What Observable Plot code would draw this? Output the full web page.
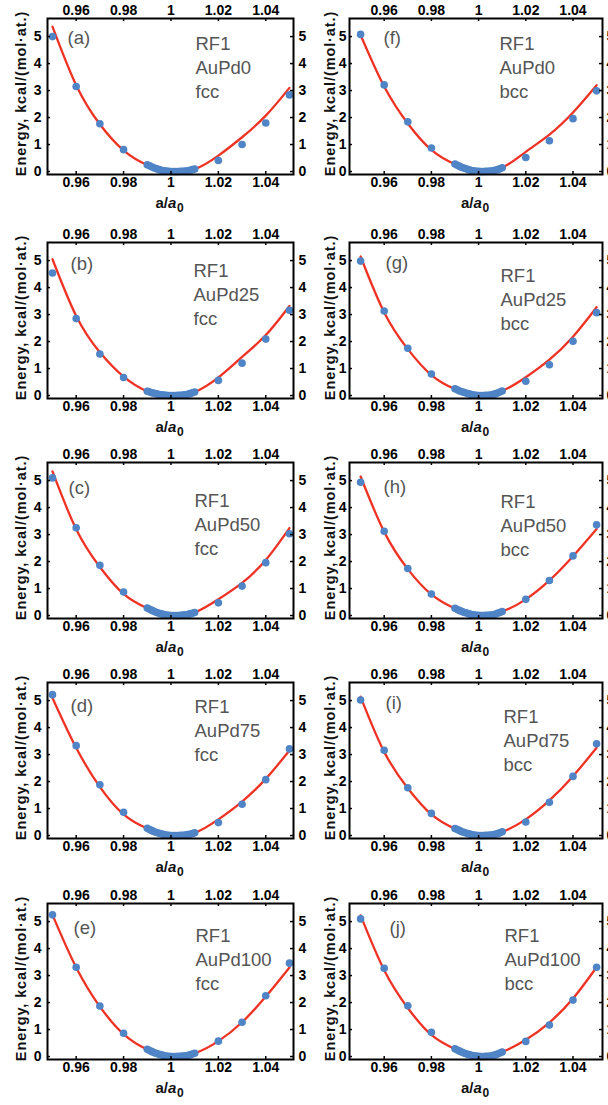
<!DOCTYPE html>
<html><head><meta charset="utf-8">
<script src="https://cdn.jsdelivr.net/npm/d3@7"></script>
<script src="https://cdn.jsdelivr.net/npm/@observablehq/plot@0.6"></script>
<style>
body{margin:0;background:#fff;}
#root{position:relative;width:608px;height:1105px;overflow:hidden;background:#fff;}
.p{position:absolute;}
.p svg{overflow:visible;}
</style>
</head><body><div id="root"></div>
<script>
// ---------- data ----------
const panelIds = ["(a)","(b)","(c)","(d)","(e)","(f)","(g)","(h)","(i)","(j)"];
const method = "RF1";
const compositions = ["AuPd0","AuPd25","AuPd50","AuPd75","AuPd100","AuPd0","AuPd25","AuPd50","AuPd75","AuPd100"];
const lattices = ["fcc","fcc","fcc","fcc","fcc","bcc","bcc","bcc","bcc","bcc"];
const xTicks = [0.96, 0.98, 1, 1.02, 1.04];
const yTicks = [0, 1, 2, 3, 4, 5];
const yTitle = "Energy, kcal/(mol·at.)";

const sparseX = [0.95, 0.96, 0.97, 0.98, 1.02, 1.03, 1.04, 1.05];
const denseX = [0.990,0.991,0.992,0.993,0.994,0.995,0.996,0.997,0.998,0.999,1.000,1.001,1.002,1.003,1.004,1.005,1.006,1.007,1.008,1.009,1.010];
const fitX = [0.95, 0.96, 0.97, 0.98, 0.99, 1.00, 1.01, 1.02, 1.03, 1.04, 1.05];

const dotsA = [5.00, 3.15, 1.77, 0.81, 0.41, 1.00, 1.80, 2.84];
const dotsB = [4.54, 2.85, 1.54, 0.67, 0.56, 1.20, 2.09, 3.16];
const dotsC = [5.10, 3.25, 1.86, 0.87, 0.47, 1.09, 1.96, 3.03];
const dotsD = [5.22, 3.33, 1.88, 0.86, 0.48, 1.16, 2.07, 3.21];
const dotsE = [5.25, 3.31, 1.87, 0.86, 0.57, 1.27, 2.25, 3.46];
const dotsF = [5.08, 3.21, 1.84, 0.87, 0.52, 1.14, 1.96, 2.99];
const dotsG = [4.98, 3.13, 1.75, 0.80, 0.53, 1.14, 2.01, 3.07];
const dotsH = [4.94, 3.12, 1.74, 0.80, 0.60, 1.30, 2.21, 3.36];
const dotsI = [5.02, 3.16, 1.77, 0.82, 0.50, 1.23, 2.19, 3.40];
const dotsJ = [5.10, 3.27, 1.88, 0.90, 0.56, 1.17, 2.09, 3.31];

const nearA = [0.25,0.21,0.17,0.13,0.10,0.07,0.05,0.03,0.02,0.01,0.00,0.00,0.00,0.00,0.01,0.01,0.02,0.03,0.05,0.07,0.09];
const nearB = [0.16,0.13,0.10,0.08,0.06,0.04,0.03,0.02,0.01,0.00,0.00,0.00,0.00,0.01,0.01,0.02,0.03,0.05,0.07,0.10,0.13];
const nearC = [0.28,0.23,0.19,0.15,0.11,0.08,0.06,0.04,0.02,0.01,0.00,0.00,0.00,0.00,0.01,0.02,0.03,0.04,0.06,0.08,0.11];
const nearD = [0.27,0.22,0.18,0.14,0.11,0.08,0.06,0.04,0.02,0.01,0.00,0.00,0.00,0.00,0.01,0.01,0.02,0.04,0.05,0.07,0.10];
const nearE = [0.27,0.22,0.18,0.14,0.11,0.08,0.06,0.04,0.02,0.01,0.00,0.00,0.00,0.01,0.01,0.02,0.03,0.04,0.06,0.09,0.12];
const nearF = [0.28,0.23,0.19,0.15,0.12,0.09,0.06,0.04,0.03,0.01,0.01,0.00,0.00,0.01,0.01,0.02,0.03,0.05,0.07,0.10,0.14];
const nearG = [0.25,0.21,0.17,0.14,0.11,0.08,0.06,0.04,0.02,0.01,0.00,0.00,0.00,0.01,0.01,0.02,0.04,0.06,0.09,0.13,0.17];
const nearH = [0.27,0.22,0.18,0.15,0.11,0.09,0.06,0.04,0.03,0.01,0.01,0.00,0.00,0.01,0.01,0.02,0.03,0.05,0.08,0.11,0.15];
const nearI = [0.26,0.22,0.18,0.14,0.11,0.08,0.06,0.04,0.02,0.01,0.00,0.00,0.00,0.01,0.01,0.02,0.03,0.05,0.07,0.10,0.14];
const nearJ = [0.29,0.24,0.20,0.16,0.12,0.09,0.07,0.05,0.03,0.02,0.01,0.00,0.00,0.01,0.01,0.02,0.04,0.06,0.09,0.13,0.17];

const fitA = [5.37, 3.20, 1.75, 0.78, 0.24, 0.01, 0.09, 0.59, 1.27, 2.07, 3.10];
const fitB = [5.05, 2.95, 1.60, 0.70, 0.16, 0.00, 0.13, 0.67, 1.43, 2.24, 3.32];
const fitC = [5.34, 3.20, 1.80, 0.80, 0.27, 0.00, 0.11, 0.60, 1.21, 2.06, 3.24];
const fitD = [5.10, 3.25, 1.80, 0.78, 0.26, 0.00, 0.10, 0.60, 1.26, 2.10, 3.15];
const fitE = [5.25, 3.30, 1.85, 0.83, 0.26, 0.00, 0.12, 0.57, 1.27, 2.22, 3.30];
const fitF = [5.06, 3.15, 1.78, 0.80, 0.27, 0.01, 0.14, 0.73, 1.37, 2.19, 3.20];
const fitG = [5.15, 3.08, 1.72, 0.76, 0.24, 0.00, 0.17, 0.68, 1.33, 2.18, 3.27];
const fitH = [5.15, 3.10, 1.72, 0.78, 0.26, 0.01, 0.15, 0.60, 1.30, 2.20, 3.21];
const fitI = [5.14, 3.10, 1.75, 0.78, 0.25, 0.00, 0.14, 0.60, 1.30, 2.20, 3.25];
const fitJ = [5.23, 3.20, 1.80, 0.80, 0.28, 0.01, 0.17, 0.62, 1.26, 2.15, 3.31];

const dotSeries = [dotsA, dotsB, dotsC, dotsD, dotsE, dotsF, dotsG, dotsH, dotsI, dotsJ];
const nearSeries = [nearA, nearB, nearC, nearD, nearE, nearF, nearG, nearH, nearI, nearJ];
const fitSeries = [fitA, fitB, fitC, fitD, fitE, fitF, fitG, fitH, fitI, fitJ];

// ---------- layout / style ----------
const COLS = [
  {left: 0, width: 305, ml: 47, mr: 12, xDomain: [0.9479, 1.0517], ylabDx: -26.5, padL: 6, padR: 5},
  {left: 305, width: 303, ml: 44, mr: 6, xDomain: [0.9453, 1.0525], ylabDx: -19, padL: 3, padR: 4}
];
const ROW_TOPS = [0, 224, 444, 664, 885];
const H = 220, MT = 18, MB = 46;
const FRAME_H = H - MT - MB;
const idPos = [[20,25],[23,27],[21,31],[23,29],[26,30],[34,25],[36,26],[34,30],[36,26],[40,30]];
const infoPos = [[148,27],[146,30],[147,40],[147,26],[148,34],[150,27],[151,35],[151,41],[154,36],[155,34]];
const FONT = "Liberation Sans, Arial, Helvetica, sans-serif";
const DOT = "#4f84c6", RED = "#ee3224", GREY = "#555";
const TICK_FS = 14;

const root = document.getElementById("root");

for (let i = 0; i < 10; i++) {
  const c = i < 5 ? 0 : 1, r = i % 5;
  const L = COLS[c];
  const frameW = L.width - L.ml - L.mr;
  const pts = sparseX.map((x, k) => ({x, y: dotSeries[i][k]}))
    .concat(denseX.map((x, k) => ({x, y: nearSeries[i][k]})));
  const fit = fitX.map((x, k) => ({x, y: fitSeries[i][k]}));
  const tf = d => String(d);
  const plot = Plot.plot({
    width: L.width, height: H,
    marginLeft: L.ml, marginRight: L.mr, marginTop: MT, marginBottom: MB,
    x: {domain: L.xDomain},
    y: {domain: [-0.11, 5.67]},
    style: {fontFamily: FONT, background: "transparent", color: "#000", overflow: "visible"},
    marks: [
      Plot.line(fit, {x: "x", y: "y", stroke: RED, strokeWidth: 2.3, curve: "natural"}),
      Plot.dot(pts, {x: "x", y: "y", r: 3.8, fill: DOT}),
      Plot.frame({stroke: "#000", strokeWidth: 2}),
      Plot.ruleX(xTicks, {insetTop: FRAME_H - 3, stroke: "#000", strokeWidth: 1.5}),
      Plot.ruleX(xTicks, {insetBottom: FRAME_H - 3, stroke: "#000", strokeWidth: 1.5}),
      Plot.ruleY(yTicks, {insetRight: frameW - 3, stroke: "#000", strokeWidth: 1.5}),
      Plot.ruleY(yTicks, {insetLeft: frameW - 3, stroke: "#000", strokeWidth: 1.5}),
      Plot.axisX(xTicks, {anchor: "bottom", tickSize: 0, tickPadding: 3, tickFormat: tf, label: null, fontSize: TICK_FS, fontWeight: "bold", fill: "#000"}),
      Plot.axisX(xTicks, {anchor: "top", tickSize: 0, tickPadding: 4, tickFormat: tf, label: null, fontSize: TICK_FS, fontWeight: "bold", fill: "#000"}),
      Plot.axisY(yTicks, {anchor: "left", tickSize: 0, tickPadding: L.padL, tickFormat: tf, label: null, fontSize: TICK_FS, fontWeight: "bold", fill: "#000"}),
      Plot.axisY(yTicks, {anchor: "right", tickSize: 0, tickPadding: L.padR, tickFormat: tf, label: null, fontSize: TICK_FS, fontWeight: "bold", fill: "#000"}),
      Plot.text([yTitle], {text: d => d, frameAnchor: "left", rotate: -90, dx: L.ylabDx, dy: -3, textAnchor: "middle", lineAnchor: "middle", fontSize: 14.5, fontWeight: "bold", fill: "#111"}),
      Plot.text(["a/"], {text: d => d, frameAnchor: "bottom", dx: -2.5, dy: 29, textAnchor: "end", lineAnchor: "middle", fontSize: 15, fontWeight: "bold", fill: "#111"}),
      Plot.text(["a"], {text: d => d, frameAnchor: "bottom", dx: -2.5, dy: 29, textAnchor: "start", lineAnchor: "middle", fontSize: 15, fontWeight: "bold", fontStyle: "italic", fill: "#111"}),
      Plot.text(["0"], {text: d => d, frameAnchor: "bottom", dx: 6.5, dy: 34, textAnchor: "start", lineAnchor: "middle", fontSize: 12, fontWeight: "bold", fill: "#111"}),
      Plot.text([panelIds[i]], {text: d => d, frameAnchor: "top-left", dx: idPos[i][0], dy: idPos[i][1] - 13, textAnchor: "start", lineAnchor: "top", fontSize: 18.5, fontWeight: "normal", fill: GREY}),
      Plot.text([method + "\n" + compositions[i] + "\n" + lattices[i]], {text: d => d, frameAnchor: "top-left", dx: infoPos[i][0], dy: infoPos[i][1] - 13, textAnchor: "start", lineAnchor: "top", lineHeight: 1.3, fontSize: 18.5, fontWeight: "normal", fill: GREY})
    ]
  });
  plot.querySelectorAll("text").forEach(t => {
    if (t.textContent === yTitle) t.style.letterSpacing = "0.9px";
  });
  const div = document.createElement("div");
  div.className = "p";
  div.style.left = L.left + "px";
  div.style.top = ROW_TOPS[r] + "px";
  div.style.width = L.width + "px";
  div.style.height = H + "px";
  div.appendChild(plot);
  root.appendChild(div);
}
</script>
</body></html>
